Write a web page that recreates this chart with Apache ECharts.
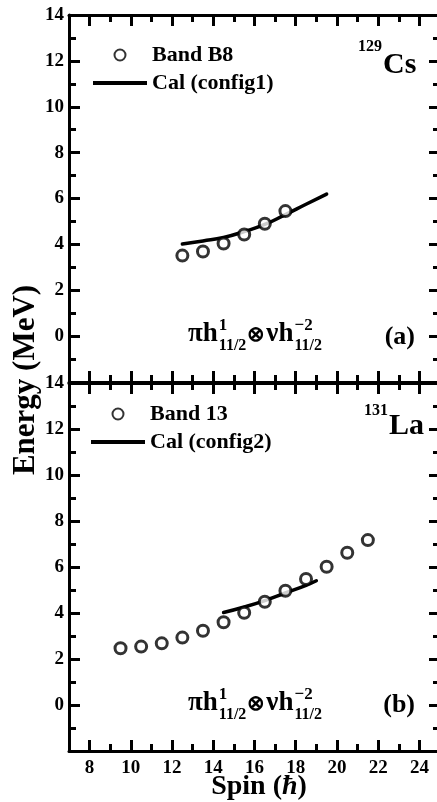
<!DOCTYPE html>
<html>
<head>
<meta charset="utf-8">
<script src="https://cdn.jsdelivr.net/npm/echarts@6/dist/echarts.min.js"></script>
<style>
  html, body { margin: 0; padding: 0; background: #fff; }
  #box { width: 437px; height: 802px; }
</style>
</head>
<body>
<div id="box"></div>
<script>
// 129Cs band B8 and calculation (config1)
var spinB8 = [12.5, 13.5, 14.5, 15.5, 16.5, 17.5];
var energyB8 = [3.51, 3.69, 4.04, 4.43, 4.9, 5.45];
var spinCal1 = [12.5, 13.5, 14.5, 15.5, 16.5, 17.5, 18.5, 19.5];
var energyCal1 = [4.02, 4.15, 4.3, 4.56, 4.87, 5.3, 5.75, 6.19];

// 131La band 13 and calculation (config2)
var spin13 = [9.5, 10.5, 11.5, 12.5, 13.5, 14.5, 15.5, 16.5, 17.5, 18.5, 19.5, 20.5, 21.5];
var energy13 = [2.47, 2.54, 2.68, 2.93, 3.23, 3.6, 4.01, 4.49, 4.97, 5.48, 6.01, 6.62, 7.17];
var spinCal2 = [14.5, 15.5, 16.5, 17.5, 18.5, 19];
var energyCal2 = [4.02, 4.26, 4.54, 4.87, 5.2, 5.4];

// tick values
var spinMajor = [8, 10, 12, 14, 16, 18, 20, 22, 24];
var spinMinor = [9, 11, 13, 15, 17, 19, 21, 23];

var FONT = '"Liberation Serif", "Times New Roman", serif';

function zip(xs, ys) {
  return xs.map(function (x, i) { return [x, ys[i]]; });
}

// one side of the spin axis = a major axis and a minor one laid over it
function spinAxes(grid, pos, labels) {
  var base = {
    type: 'value', gridIndex: grid, position: pos, min: 7, max: 25,
    splitLine: { show: false }
  };
  return [
    Object.assign({}, base, {
      axisLine: { show: true, onZero: false, lineStyle: { color: '#000', width: 3 } },
      axisTick: { show: true, inside: true, length: 11, customValues: spinMajor,
        lineStyle: { color: '#000', width: 3 } },
      axisLabel: { show: labels, customValues: spinMajor, margin: 8, color: '#000',
        fontFamily: FONT, fontWeight: 'bold', fontSize: 19 }
    }),
    Object.assign({}, base, {
      axisLine: { show: false, onZero: false },
      axisTick: { show: true, inside: true, length: 7, customValues: spinMinor,
        lineStyle: { color: '#000', width: 3 } },
      axisLabel: { show: false }
    })
  ];
}

function energyAxis(grid, pos, labels) {
  return {
    type: 'value', gridIndex: grid, position: pos, min: -2, max: 14, interval: 2,
    splitLine: { show: false },
    // the right-hand frame line falls just past the picture edge
    axisLine: { show: labels, onZero: false, lineStyle: { color: '#000', width: 3 } },
    axisTick: { show: true, inside: true, length: 11, lineStyle: { color: '#000', width: 3 } },
    minorTick: { show: true, splitNumber: 2, length: 7, lineStyle: { color: '#000', width: 3 } },
    axisLabel: {
      show: labels, margin: 5, color: '#000', fontFamily: FONT, fontWeight: 'bold', fontSize: 19,
      formatter: function (v) { return v < 0 ? '' : v; }
    }
  };
}

// measure text so the sub/superscripts sit right after their base letters
var measureCtx = document.createElement('canvas').getContext('2d');
function textWidth(text, font) {
  measureCtx.font = font;
  return measureCtx.measureText(text).width;
}
function bold(size) { return 'bold ' + size + 'px ' + FONT; }

function formula(x0, y0) {
  var out = [];
  var x = x0;
  var t = function (xx, y, text, size) {
    return { type: 'text', x: xx, y: y, style: { text: text, font: bold(size), fill: '#000', align: 'left', verticalAlign: 'middle' } };
  };
  var base = function (text) {
    out.push(t(x, y0 - 2, text, 27));
    x += textWidth(text, bold(27)) + 1;
  };
  var scripts = function (sup, sub) {
    out.push(t(x, y0 - 10, sup, 17));
    out.push(t(x, y0 + 10, sub, 16));
    x += Math.max(textWidth(sup, bold(17)), textWidth(sub, bold(16))) + 1;
  };
  base('\u03c0h');
  scripts('1', '11/2');
  out.push(t(x, y0, '\u2297', 21));
  x += textWidth('\u2297', bold(21)) + 1;
  base('\u03bdh');
  scripts('\u22122', '11/2');
  return out;
}

function label(x, y, text, size, align) {
  return { type: 'text', x: x, y: y,
    style: { text: text, font: bold(size), fill: '#000', align: align, verticalAlign: 'middle' } };
}

var scatterStyle = { color: '#fff', borderColor: '#000', borderWidth: 3 };
var legendText = { color: '#000', fontFamily: FONT, fontWeight: 'bold', fontSize: 22, lineHeight: 28 };
var lineIcon = 'path://M0 0H54V4H0Z';

var chart = echarts.init(document.getElementById('box'));
chart.setOption({
  backgroundColor: '#fff',
  animation: false,
  grid: [
    { left: 69, top: 15, width: 371, height: 367, outerBoundsMode: 'none' },
    { left: 69, top: 383, width: 371, height: 368, outerBoundsMode: 'none' }
  ],
  xAxis: [].concat(
    spinAxes(0, 'bottom', false), spinAxes(0, 'top', false),
    spinAxes(1, 'bottom', true), spinAxes(1, 'top', false)
  ),
  yAxis: [
    energyAxis(0, 'left', true), energyAxis(0, 'right', false),
    energyAxis(1, 'left', true), energyAxis(1, 'right', false)
  ],
  legend: [
    { left: 93, top: 41, padding: 0, orient: 'vertical', itemWidth: 54, itemHeight: 11, itemGap: 0,
      data: ['Band B8', { name: 'Cal (config1)', icon: lineIcon }], textStyle: legendText },
    { left: 91, top: 400, padding: 0, orient: 'vertical', itemWidth: 54, itemHeight: 11, itemGap: 0,
      data: ['Band 13', { name: 'Cal (config2)', icon: lineIcon }], textStyle: legendText }
  ],
  series: [
    { name: 'Band B8', type: 'scatter', xAxisIndex: 0, yAxisIndex: 0, symbol: 'circle', symbolSize: 11,
      itemStyle: scatterStyle, data: zip(spinB8, energyB8), z: 3 },
    { name: 'Cal (config1)', type: 'line', xAxisIndex: 0, yAxisIndex: 0, smooth: true, showSymbol: false,
      symbol: 'none', lineStyle: { color: '#000', width: 3.5, cap: 'round' }, itemStyle: { color: '#000' },
      data: zip(spinCal1, energyCal1), z: 2 },
    { name: 'Band 13', type: 'scatter', xAxisIndex: 4, yAxisIndex: 2, symbol: 'circle', symbolSize: 11,
      itemStyle: scatterStyle, data: zip(spin13, energy13), z: 3 },
    { name: 'Cal (config2)', type: 'line', xAxisIndex: 4, yAxisIndex: 2, smooth: true, showSymbol: false,
      symbol: 'none', lineStyle: { color: '#000', width: 3.5, cap: 'round' }, itemStyle: { color: '#000' },
      data: zip(spinCal2, energyCal2), z: 2 }
  ],
  graphic: [
    { type: 'text', x: 26, y: 380, rotation: Math.PI / 2,
      style: { text: 'Energy (MeV)', font: bold(31), fill: '#000', align: 'center', verticalAlign: 'middle' } },
    { type: 'text', x: 259, y: 787,
      style: { text: '{n|Spin (}{h|\u0127}{n|)}', fill: '#000', align: 'center', verticalAlign: 'middle',
        rich: {
          n: { fontFamily: FONT, fontWeight: 'bold', fontSize: 28 },
          h: { fontFamily: FONT, fontWeight: 'bold', fontStyle: 'italic', fontSize: 28 }
        } } },
    label(382, 47, '129', 16, 'right'),
    label(383, 65, 'Cs', 30, 'left'),
    label(388, 411, '131', 16, 'right'),
    label(389, 426, 'La', 30, 'left'),
    label(415, 337, '(a)', 26, 'right'),
    label(415, 705, '(b)', 26, 'right')
  ].concat(formula(188, 336), formula(188, 705))
});
</script>
</body>
</html>
